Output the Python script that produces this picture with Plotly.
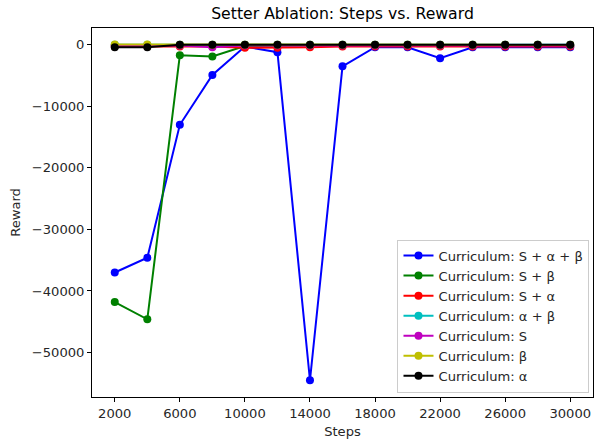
import plotly.graph_objects as go

steps = [2000, 4000, 6000, 8000, 10000, 12000, 14000, 16000, 18000, 20000, 22000, 24000, 26000, 28000, 30000]

s_alpha_beta = [-37000, -34600, -13000, -4900, -300, -1200, -54500, -3500, -400, -400, -2200, -400, -400, -400, -400]
s_beta = [-41800, -44600, -1700, -1900, -200, -100, -100, -100, -100, -100, -100, -100, -100, -100, -100]
s_alpha = [-300, -300, -300, -300, -500, -500, -400, -300, -300, -300, -300, -300, -300, -300, -300]
alpha_beta = [0, 0, 0, 0, 0, 0, 0, 0, 0, 0, 0, 0, 0, 0, 0]
s_only = [-100, -100, -100, -400, -100, -100, -100, -100, -100, -100, -100, -100, -100, -100, -100]
beta_only = [50, 50, 0, 0, 0, 0, 0, 0, 0, 0, 0, 0, 0, 0, 0]
alpha_only = [-400, -400, 0, 0, 0, 0, 0, 0, 0, 0, 0, 0, 0, 0, 0]

series_names = ["Curriculum: S + α + β", "Curriculum: S + β", "Curriculum: S + α",
                "Curriculum: α + β", "Curriculum: S", "Curriculum: β", "Curriculum: α"]
series_values = [s_alpha_beta, s_beta, s_alpha, alpha_beta, s_only, beta_only, alpha_only]
colors = ["#0000ff", "#008000", "#ff0000", "#00bfbf", "#bf00bf", "#bfbf00", "#000000"]

y_ticks = [0, -10000, -20000, -30000, -40000, -50000]
y_tick_labels = ["0", "−10000", "−20000", "−30000", "−40000", "−50000"]
x_ticks = [2000, 6000, 10000, 14000, 18000, 22000, 26000, 30000]
x_tick_labels = ["2000", "6000", "10000", "14000", "18000", "22000", "26000", "30000"]

fig = go.Figure()
for name, vals, c in zip(series_names, series_values, colors):
    fig.add_trace(go.Scatter(x=steps, y=vals, name=name, mode="lines+markers",
                             line=dict(color=c, width=2),
                             marker=dict(color=c, size=8)))

font = "DejaVu Sans"
fig.update_layout(
    width=594, height=441,
    margin=dict(l=92, r=1, t=28, b=44),
    paper_bgcolor="white", plot_bgcolor="white",
    font=dict(family=font, size=13.1, color="#262626"),
    title=dict(text="Setter Ablation: Steps vs. Reward", x=0.5, xref="paper",
               xanchor="center", y=1 - 14 / 441, yanchor="middle",
               font=dict(size=15.7, color="black")),
    showlegend=True,
    legend=dict(x=0.993, y=0.012, xanchor="right", yanchor="bottom",
                bgcolor="rgba(255,255,255,0.8)", bordercolor="#cccccc", borderwidth=1,
                font=dict(size=13.1, color="#262626")),
    xaxis=dict(range=[600, 31400], tickvals=x_ticks, ticktext=x_tick_labels,
               showgrid=False, zeroline=False,
               showline=True, mirror=True, linecolor="black", linewidth=1,
               ticks="outside", ticklen=4, tickcolor="black",
               title=dict(text="Steps", font=dict(size=13.1), standoff=7)),
    yaxis=dict(range=[-57225, 2725], tickvals=y_ticks, ticktext=y_tick_labels,
               showgrid=False, zeroline=False,
               showline=True, mirror=True, linecolor="black", linewidth=1,
               ticks="outside", ticklen=4, tickcolor="black",
               title=dict(text="Reward", font=dict(size=13.1), standoff=8)),
)

fig.write_html("out.html", post_script="document.body.style.margin='0px';",
               config={"displayModeBar": False})
